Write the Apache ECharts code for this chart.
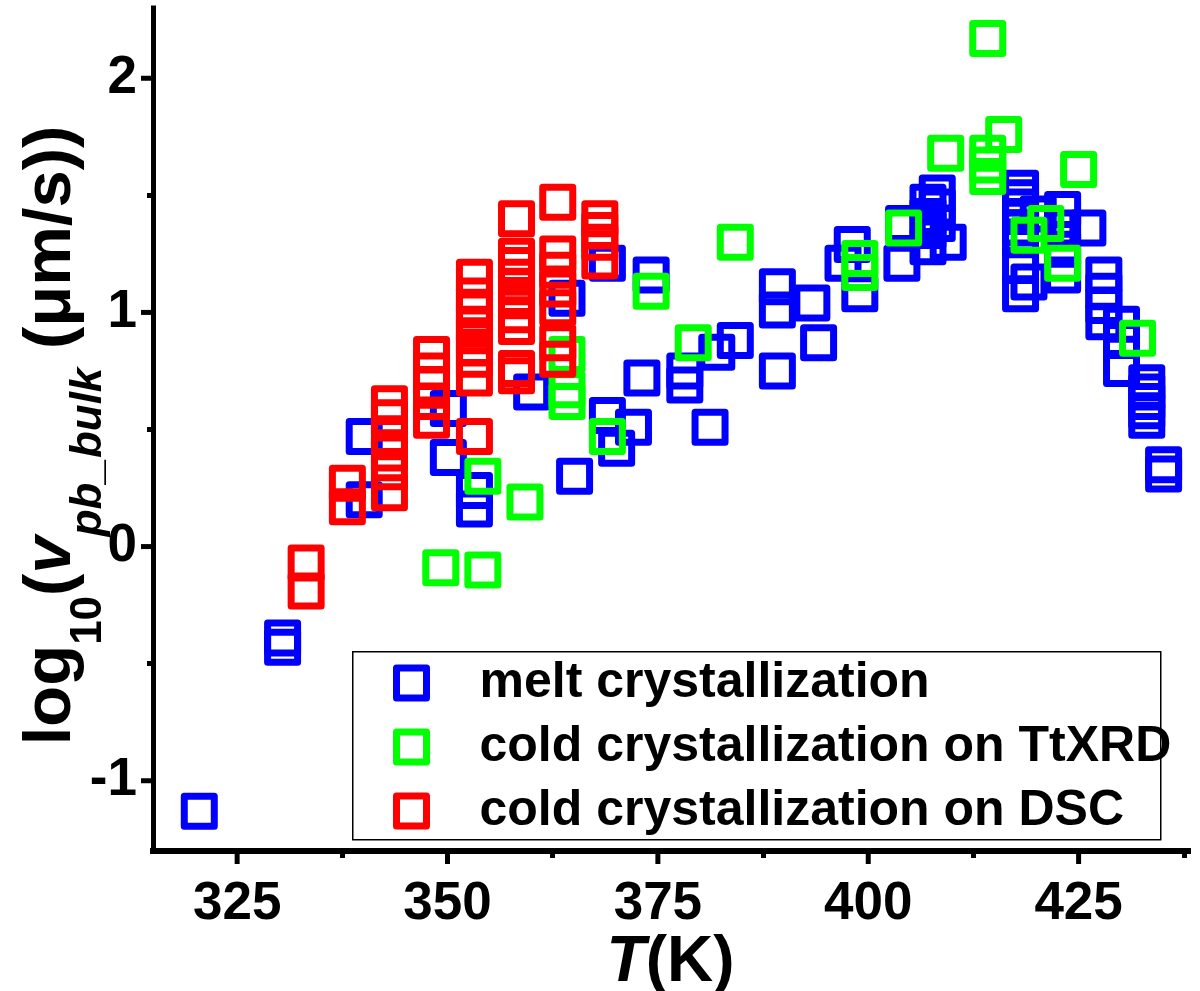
<!DOCTYPE html>
<html>
<head>
<meta charset="utf-8">
<script src="https://cdn.jsdelivr.net/npm/echarts@6/dist/echarts.min.js"></script>
<style>
html,body{margin:0;padding:0;background:#fff;}
#chart{width:1200px;height:991px;}
</style>
</head>
<body>
<div id="chart"></div>
<script>
// ---- data (T in K, log10 v in um/s) ----
var meltT = [320.5,330.4,330.4,340.1,340.1,350.1,350.1,353.2,353.2,360.0,364.2,365.1,369.0,369.0,370.1,372.1,373.1,374.2,378.2,378.2,381.2,382.0,384.2,389.2,389.2,389.2,393.3,394.1,397.0,398.1,399.0,404.0,404.2,407.1,407.1,407.1,407.1,408.2,408.2,408.2,409.5,418.1,418.1,418.1,418.1,418.1,418.1,418.1,418.1,419.1,420.2,423.1,423.1,423.1,423.1,426.1,428.0,428.0,428.0,428.0,430.1,430.1,430.1,433.1,433.1,433.1,433.1,433.1,435.1,435.1];
var meltV = [-1.13,-0.39,-0.43,0.47,0.20,0.59,0.38,0.24,0.16,0.66,1.06,0.30,1.21,0.56,0.42,0.51,0.72,1.16,0.75,0.69,0.51,0.83,0.88,1.11,1.01,0.75,1.04,0.87,1.21,1.29,1.08,1.21,1.38,1.47,1.41,1.35,1.28,1.51,1.45,1.38,1.30,1.53,1.49,1.45,1.41,1.36,1.31,1.20,1.08,1.13,1.42,1.44,1.36,1.27,1.16,1.36,1.16,1.09,1.03,0.96,0.95,0.88,0.76,0.70,0.66,0.62,0.58,0.54,0.35,0.31];

var xrdT = [349.2,354.2,354.2,359.2,364.2,364.2,364.2,369.0,374.2,379.2,384.2,399.0,399.0,404.2,409.2,414.2,414.2,414.2,414.2,416.1,419.1,421.1,423.1,425.0,432.0];
var xrdV = [-0.09,-0.10,0.30,0.19,0.82,0.67,0.62,0.47,1.09,0.87,1.30,1.23,1.17,1.36,1.68,2.17,1.68,1.63,1.58,1.76,1.33,1.38,1.21,1.61,0.89];

var dscT = [333.2,333.2,338.1,338.1,343.1,343.1,343.1,343.1,343.1,343.1,348.1,348.1,348.1,348.1,348.1,353.2,353.2,353.2,353.2,353.2,353.2,353.2,353.2,353.2,358.2,358.2,358.2,358.2,358.2,358.2,358.2,358.2,358.2,358.2,363.1,363.1,363.1,363.1,363.1,363.1,363.1,368.1,368.1,368.1,368.1];
var dscV = [-0.07,-0.19,0.27,0.17,0.61,0.55,0.47,0.40,0.32,0.23,0.82,0.75,0.69,0.62,0.54,0.47,1.15,1.07,1.01,0.95,0.90,0.85,0.80,0.72,1.40,1.24,1.20,1.15,1.11,1.05,0.99,0.94,0.76,0.73,1.47,1.25,1.18,1.10,1.02,0.87,0.80,1.40,1.35,1.30,1.22];

var seriesNames = ['melt crystallization','cold crystallization on TtXRD','cold crystallization on DSC'];
var seriesColors = ['#0000FF','#00FF00','#FF0000'];

var xTicks = [325,350,375,400,425];
var xMinor = [337.5,362.5,387.5,412.5,437.5];
var yTicks = [-1,0,1,2];
var yMinor = [-0.5,0.5,1.5];

function zip(a,b){ return a.map(function(v,i){ return [v,b[i]]; }); }

var FONT = '"Liberation Sans", Arial, sans-serif';
var chart = echarts.init(document.getElementById('chart'), null, {renderer:'canvas'});

var xMin = 315, xMax = 438, yMin = -1.3, yMax = 2.3;

function scatter(i, data){
  return {
    name: seriesNames[i], type:'scatter', data: data, symbol:'rect', symbolSize:30,
    xAxisIndex:0, yAxisIndex:0,
    itemStyle:{color:'rgba(0,0,0,0)', borderColor: seriesColors[i], borderWidth:7, borderJoin:'round', opacity:1},
    emphasis:{disabled:true}, animation:false
  };
}
function tickAxis(min, max, pos, vals, len){
  return {
    type:'value', min:min, max:max, position:pos, gridIndex:0, z:20,
    axisLine:{show:false, onZero:false},
    axisTick:{show:true, customValues:vals, length:len, lineStyle:{color:'#000', width:5}},
    axisLabel:{show:false}, splitLine:{show:false}
  };
}

var option = {
  animation:false,
  backgroundColor:'#fff',
  grid:{left:153, right:12, top:8, bottom:140, containLabel:false, outerBoundsMode:'none'},
  xAxis:[{
    type:'value', min:xMin, max:xMax, position:'bottom', gridIndex:0,
    axisLine:{show:true, onZero:false, lineStyle:{color:'#000', width:6, cap:'square'}},
    axisTick:{show:false},
    axisLabel:{show:true, customValues:xTicks, fontSize:53, fontWeight:'bold', fontFamily:FONT, color:'#000', margin:27},
    splitLine:{show:false},
    name:'{i|T}{a|(K)}', nameLocation:'middle', nameGap:80, nameMoveOverlap:false,
    nameTextStyle:{rich:{
      i:{fontSize:64, fontWeight:'bold', fontStyle:'italic', fontFamily:FONT, color:'#000'},
      a:{fontSize:64, fontWeight:'bold', fontFamily:FONT, color:'#000'}
    }}
  },
  tickAxis(xMin, xMax, 'bottom', xMinor, 7)
  ],
  yAxis:[{
    type:'value', min:yMin, max:yMax, position:'left', gridIndex:0,
    axisLine:{show:true, onZero:false, lineStyle:{color:'#000', width:5, cap:'square'}},
    axisTick:{show:false},
    axisLabel:{show:true, customValues:yTicks, fontSize:53, fontWeight:'bold', fontFamily:FONT, color:'#000', margin:16},
    splitLine:{show:false},
    name:'{a|log}{s|10}{a|(}{i|v}{si|pb_bulk}{a| (μm/s))}', nameLocation:'middle', nameGap:42, nameRotate:90, nameMoveOverlap:false,
    nameTextStyle:{padding:[0,12,0,0], rich:{
      a:{fontSize:67, fontWeight:'bold', fontFamily:FONT, color:'#000', lineHeight:118, verticalAlign:'middle'},
      i:{fontSize:67, fontWeight:'bold', fontStyle:'italic', fontFamily:FONT, color:'#000', lineHeight:118, verticalAlign:'middle'},
      s:{fontSize:44, fontWeight:'bold', fontFamily:FONT, color:'#000', lineHeight:44, verticalAlign:'bottom'},
      si:{fontSize:44, fontWeight:'bold', fontStyle:'italic', fontFamily:FONT, color:'#000', lineHeight:44, verticalAlign:'bottom'}
    }}
  },
  tickAxis(yMin, yMax, 'left', yMinor, 6)
  ],
  legend:{
    orient:'vertical', left:388, top:653, itemWidth:30, itemHeight:30, itemGap:14,
    icon:'rect',
    itemStyle:{borderWidth:7},
    textStyle:{fontSize:50, fontWeight:'bold', fontFamily:FONT, color:'#000', padding:[0,0,0,48]},
    data:seriesNames, selectedMode:false
  },
  graphic:[{
    type:'rect', left:352, top:651, z:-1, silent:true,
    shape:{width:808, height:188},
    style:{fill:'#fff', stroke:'#000', lineWidth:1.5}
  }],
  series:[
    scatter(0, zip(meltT, meltV)),
    scatter(1, zip(xrdT, xrdV)),
    scatter(2, zip(dscT, dscV))
  ]
};
chart.setOption(option);

// major ticks: positions converted through the chart's own axis scales
var tickEls = [];
xTicks.forEach(function(v){
  var p = chart.convertToPixel({xAxisIndex:0, yAxisIndex:0}, [v, yMin]);
  tickEls.push({type:'rect', z:1000, zlevel:2, silent:true,
    shape:{x:p[0]-2.5, y:p[1], width:5, height:13}, style:{fill:'#000'}});
});
yTicks.forEach(function(v){
  var p = chart.convertToPixel({xAxisIndex:0, yAxisIndex:0}, [xMin, v]);
  tickEls.push({type:'rect', z:1000, zlevel:2, silent:true,
    shape:{x:p[0]-12, y:p[1]-2.5, width:12, height:5}, style:{fill:'#000'}});
});
chart.setOption({graphic: option.graphic.concat(tickEls)});
</script>
</body>
</html>
